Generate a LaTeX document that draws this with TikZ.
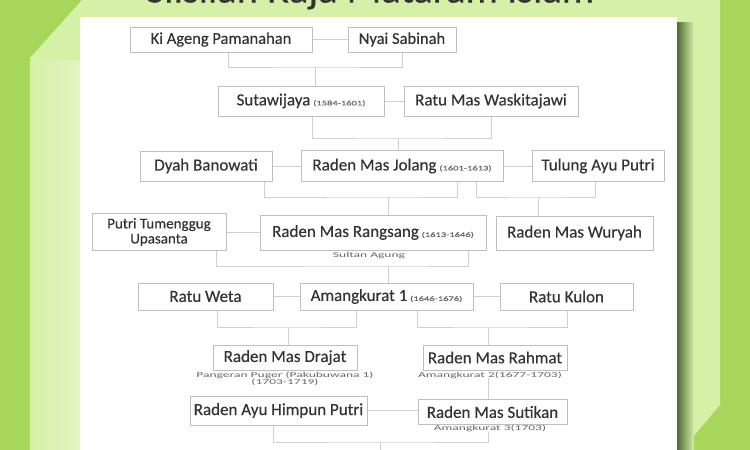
\documentclass[tikz,border=0pt]{standalone}
\usepackage{fontspec}
\setmainfont{Carlito}
\newfontfamily\boxfont[FakeBold=0.3]{Carlito}
\usepackage{graphicx}
\definecolor{brightgreen}{HTML}{A6D75B}
\definecolor{lightgreen}{HTML}{D6F0A8}
\definecolor{palegreen}{HTML}{E2F5C0}
\definecolor{shadowgreen}{HTML}{4F6B35}
\definecolor{boxgray}{HTML}{BEBEBE}
\definecolor{linegray}{HTML}{D0D0D0}
\definecolor{txt}{HTML}{333333}
\definecolor{subgray}{HTML}{666666}
\newcommand{\yr}[1]{\,{\fontsize{7}{8}\selectfont\color{subgray}\scalebox{1.5}[1]{#1}}}
\newcommand{\subt}[1]{\scalebox{1.8}[1]{#1}}
\begin{document}
\begin{tikzpicture}[x=1pt,y=-1pt,
  box/.style={draw=boxgray,line width=1pt,fill=white,text=txt,inner sep=0pt,
    font=\boxfont\fontsize{17}{18}\selectfont,align=center},
  link/.style={draw=linegray,line width=1pt},
  sub/.style={text=subgray,inner sep=0pt,font=\fontsize{7.5}{8}\selectfont,align=center}]
\clip (0,0) rectangle (750,450);
% background
\fill[brightgreen] (0,0) rectangle (750,450);
\fill[lightgreen] (30,450) -- (30,58) -- (82,0) -- (720,0) -- (720,405) -- (682,450) -- cycle;
\shade[left color=lightgreen,right color=palegreen] (30,60) rectangle (80,450);
\shade[left color=shadowgreen,right color=lightgreen] (677,22) rectangle (694,450);
\fill[white] (80,17) rectangle (677,450);
\node[text=txt,font=\boxfont\fontsize{40.5}{42}\selectfont,anchor=base,inner sep=0pt] (title) at (370,2.5) {Silsilah Raja Mataram Islam};
% boxes
\node[box,minimum width=182,minimum height=25,font=\boxfont\fontsize{16.5}{18}\selectfont] (ki) at (221,39.5) {Ki Ageng Pamanahan};
\node[box,minimum width=108,minimum height=25,font=\boxfont\fontsize{16.5}{18}\selectfont] (nyai) at (402,39.5) {Nyai Sabinah};
\node[box,minimum width=166,minimum height=30] (suta) at (301,101) {Sutawijaya\yr{(1584-1601)}};
\node[box,minimum width=174,minimum height=30] (ratu) at (491,101) {Ratu Mas Waskitajawi};
\node[box,minimum width=132,minimum height=30] (dyah) at (206,166) {Dyah Banowati};
\node[box,minimum width=202,minimum height=31] (jolang) at (402,166) {Raden Mas Jolang\yr{(1601-1613)}};
\node[box,minimum width=132,minimum height=31] (tulung) at (598,166) {Tulung Ayu Putri};
\node[box,minimum width=134,minimum height=37,font=\boxfont\fontsize{15}{15}\selectfont] (putri) at (159,232) {Putri Tumenggug\\Upasanta};
\node[box,minimum width=226,minimum height=35] (rangsang) at (373,232.5) {Raden Mas Rangsang\yr{(1613-1646)}};
\node[box,minimum width=157,minimum height=34] (wuryah) at (574.5,233) {Raden Mas Wuryah};
\node[box,minimum width=135,minimum height=27] (weta) at (205.5,296.5) {Ratu Weta};
\node[box,minimum width=173,minimum height=27] (amang) at (386.5,296.5) {Amangkurat 1\yr{(1646-1676)}};
\node[box,minimum width=133,minimum height=27] (kulon) at (566.5,296.5) {Ratu Kulon};
\node[box,minimum width=144,minimum height=25] (drajat) at (285,357.5) {Raden Mas Drajat};
\node[box,minimum width=144,minimum height=25] (rahmat) at (495,357.5) {Raden Mas Rahmat};
\node[box,minimum width=177,minimum height=29] (himpun) at (278.5,410.5) {Raden Ayu Himpun Putri};
\node[box,minimum width=149,minimum height=25] (sutikan) at (492.5,412) {Raden Mas Sutikan};
% spouse links
\draw[link] (ki.east) -- (nyai.west);
\draw[link] (suta.east) -- (ratu.west);
\draw[link] (dyah.east) -- (jolang.west);
\draw[link] (jolang.east) -- (tulung.west);
\draw[link] (putri.east) -- (putri.east -| rangsang.west);
\draw[link] (weta.east) -- (amang.west);
\draw[link] (amang.east) -- (kulon.west);
\draw[link] (himpun.east) -- (himpun.east -| sutikan.west);
% family brackets
\coordinate (m1) at (315,67);
\draw[link] ([xshift=7pt]ki.south) |- (m1) -| (nyai.south);
\draw[link] (m1) -- (m1 |- suta.north);
\coordinate (m2) at (398,138);
\draw[link] ([xshift=11pt]suta.south) |- (m2) -| (ratu.south);
\draw[link] (m2) -- (m2 |- jolang.north);
\coordinate (m3) at (388,197);
\draw[link] ([xshift=58pt]dyah.south) |- (m3) -| ([xshift=55pt]jolang.south);
\draw[link] (m3) -- (m3 |- rangsang.north);
\coordinate (m4) at (538,197);
\draw[link] ([xshift=74pt]jolang.south) |- (m4) -| ([xshift=-3pt]tulung.south);
\draw[link] (m4) -- (m4 |- wuryah.north);
\coordinate (m5) at (388,266);
\draw[link] ([xshift=57pt]putri.south) |- (m5) -| ([xshift=95pt]rangsang.south);
\draw[link] (m5) -- (m5 |- amang.north);
\coordinate (m6) at (288,327);
\draw[link] ([xshift=11.5pt]weta.south) |- (m6) -| ([xshift=-30.5pt]amang.south);
\draw[link] (m6) -- (m6 |- drajat.north);
\coordinate (m7) at (488,327);
\draw[link] ([xshift=30.5pt]amang.south) |- (m7) -| ([xshift=0.5pt]kulon.south);
\draw[link] (m7) -- (m7 |- rahmat.north);
\draw[link] ([xshift=-7pt]rahmat.south) -- ([xshift=-4.5pt]sutikan.north);
\coordinate (m8) at (380,442);
\coordinate (end) at (380,450);
\draw[link] ([xshift=-5.5pt]himpun.south) |- (m8) -| ([xshift=-4.5pt]sutikan.south);
\draw[link] (m8) -- (end);
% sub labels
\node[sub,fill=white] (sa) at (369,256) {\subt{Sultan Agung}};
\node[sub,fill=white] (pp) at (285,378.5) {\subt{Pangeran Puger (Pakubuwana 1)}\\[-1pt]\subt{(1703-1719)}};
\node[sub,fill=white] (a2) at (490,375) {\subt{Amangkurat 2(1677-1703)}};
\node[sub,fill=white] (a3) at (490,428.5) {\subt{Amangkurat 3(1703)}};
\end{tikzpicture}
\end{document}
